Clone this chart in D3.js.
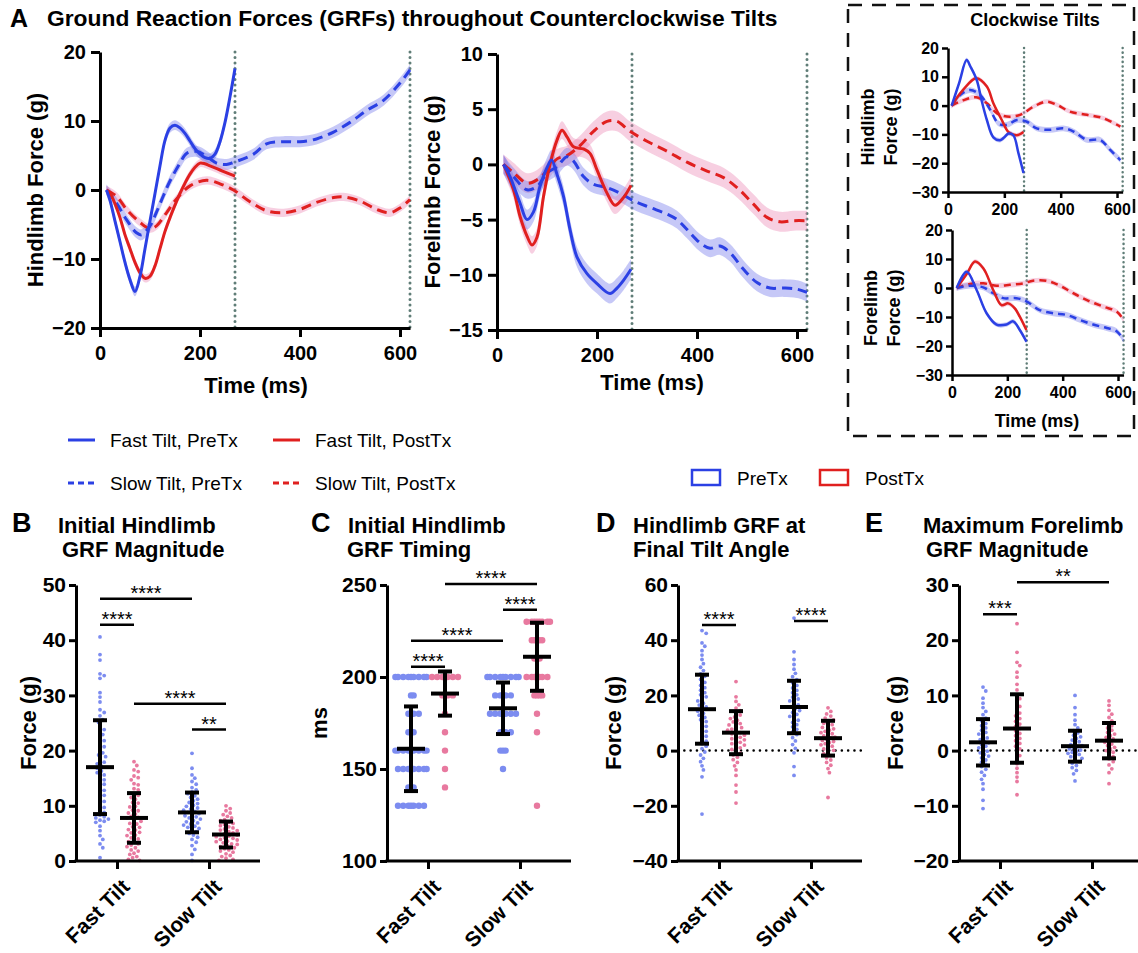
<!DOCTYPE html>
<html>
<head>
<meta charset="utf-8">
<script src="https://cdn.jsdelivr.net/npm/d3@7"></script>
<style>
  body { margin: 0; background: #fff; }
  svg text { font-family: "Liberation Sans", Arial, sans-serif; }
</style>
</head>
<body>
<svg id="fig" width="1138" height="953"></svg>
<script>
// ---- shared labels ----
const timeTicks = [0, 200, 400, 600];
const tiltEnds = [270, 620];
const seriesNames = ['Fast Tilt, PreTx', 'Fast Tilt, PostTx', 'Slow Tilt, PreTx', 'Slow Tilt, PostTx'];
const txGroups = ['PreTx', 'PostTx'];
const cats = ['Fast Tilt', 'Slow Tilt'];

// ---- A: counterclockwise hindlimb [time ms, force g] ----
const ccwHindFastPre = [[13,0],[20,-1.5],[30,-4.5],[40,-7.5],[50,-10.5],[60,-13],[70,-14.7],[80,-12.5],[90,-8.5],[100,-4.5],[110,-0.5],[120,3.5],[130,7.2],[140,9],[150,9.4],[160,9],[170,8.2],[180,7.1],[190,6],[200,5.2],[210,4.7],[220,4.6],[230,5.2],[240,7],[250,9.8],[260,13.5],[270,17.6]];
const ccwHindFastPost = [[13,0],[20,-0.5],[30,-2],[40,-4],[50,-6.5],[60,-8.5],[70,-10.5],[80,-12],[90,-12.8],[100,-12.5],[110,-11],[120,-8.5],[130,-6],[140,-4],[150,-2.2],[160,-0.5],[170,1],[180,2.3],[190,3.3],[200,3.9],[210,3.8],[220,3.5],[230,3.2],[240,2.9],[250,2.6],[260,2.3],[270,2]];
const ccwHindSlowPre = [[13,0],[33,-1.9],[53,-4.3],[73,-6.2],[83,-6.5],[100,-5.2],[113,-3.2],[127,-0.8],[140,1.3],[160,3.9],[173,5.3],[193,5.6],[213,4.9],[233,3.9],[253,3.7],[267,4],[307,5.2],[333,6.7],[367,7],[400,7],[433,7.4],[467,8.4],[500,9.8],[533,11.5],[567,13],[600,15.5],[620,17.4]];
const ccwHindSlowPost = [[13,0],[33,-0.9],[53,-2.8],[80,-4.7],[100,-5.6],[113,-5.2],[133,-3.3],[153,-1.3],[180,0.6],[213,1.4],[240,0.9],[267,0],[300,-1.7],[333,-3],[367,-3.3],[400,-2.8],[433,-1.8],[467,-1.1],[487,-1],[520,-1.6],[553,-2.8],[580,-3.3],[600,-2.6],[620,-1.4]];
const ccwHindSem = [0.7, 0.6, 0.8, 0.6];

// ---- A: counterclockwise forelimb ----
const ccwForeFastPre = [[13,0],[26,-1.1],[46,-3.5],[60,-5],[73,-4.3],[86,-2],[100,-0.3],[109,0.4],[120,-0.9],[133,-2.9],[146,-5.9],[160,-8.4],[180,-9.9],[200,-10.8],[226,-11.7],[240,-11.2],[253,-10.5],[268,-9.5]];
const ccwForeFastPost = [[13,0],[33,-2.3],[46,-4.7],[60,-6.5],[70,-7.3],[80,-6.6],[93,-2.9],[106,0],[120,2.2],[130,3.1],[140,2.5],[153,1.6],[173,1.4],[186,1],[200,-0.5],[220,-2.6],[236,-3.7],[253,-3],[268,-1.9]];
const ccwForeSlowPre = [[13,0],[33,-1.1],[60,-2.3],[80,-2],[100,-0.8],[120,-0.2],[140,0.7],[153,0.3],[173,-1.1],[193,-1.8],[220,-2.1],[246,-2.6],[273,-3.3],[306,-3.9],[340,-4.5],[360,-5],[380,-5.9],[406,-7.1],[426,-7.6],[446,-7.4],[466,-8],[493,-9.5],[520,-10.7],[546,-11.2],[573,-11.2],[600,-11.3],[620,-11.6]];
const ccwForeSlowPost = [[13,0],[33,-0.75],[60,-1.7],[80,-1.4],[100,-0.6],[120,0.5],[140,0.8],[166,1.7],[193,3],[220,3.9],[240,3.9],[266,3],[300,2.1],[340,1.2],[380,0.2],[420,-0.6],[453,-1.2],[480,-2.1],[513,-3.6],[540,-4.8],[566,-5.2],[593,-5.1],[620,-5.1]];
const ccwForeSem = [0.9, 0.8, 0.8, 0.9];

// ---- A inset: clockwise hindlimb ----
const cwHindFastPre = [[13,0],[40,8],[66,15.8],[80,13.5],[102,8.9],[120,1.5],[138,-5],[161,-11],[185,-12],[200,-11],[215,-9.7],[232,-10.3],[250,-16.5],[268,-23.4]];
const cwHindFastPost = [[13,0],[53,5.4],[100,9.5],[138,6.6],[161,0.8],[191,-5],[215,-9.2],[244,-10.3],[268,-9.2]];
const cwHindSlowPre = [[13,0],[43,3.7],[78,5.4],[114,3.7],[150,-1.5],[179,-6.2],[209,-6.7],[244,-5],[280,-5.6],[315,-7.9],[363,-8.4],[410,-7.9],[446,-9],[493,-11.9],[540,-11.9],[576,-15.4],[612,-18.9]];
const cwHindSlowPost = [[13,0],[53,1.8],[100,2.9],[138,0.8],[173,-2.6],[209,-3.8],[256,-3.2],[303,-0.4],[350,1.4],[386,0.3],[433,-2.1],[493,-3.2],[552,-4.4],[612,-7.3]];
const cwHindSem = [0.8, 0.8, 1.0, 0.8];

// ---- A inset: clockwise forelimb ----
const cwForeFastPre = [[17,0],[53,5.6],[89,-0.7],[125,-8.7],[161,-12.6],[197,-12.6],[221,-11.5],[245,-14.5],[269,-18.5]];
const cwForeFastPost = [[17,0],[53,4.8],[83,9.1],[113,6.8],[149,-0.7],[179,-5.9],[203,-5.3],[227,-7],[245,-9.9],[269,-14.5]];
const cwForeSlowPre = [[17,0],[65,0.8],[113,0.2],[149,-1.8],[185,-3.5],[233,-3.5],[269,-4.6],[317,-7.6],[366,-8.7],[414,-9.3],[462,-11],[510,-12.6],[559,-13.8],[595,-14.9],[620,-17.9]];
const cwForeSlowPost = [[17,0],[65,1.4],[113,1.6],[161,0.8],[209,1.1],[257,1.6],[293,2.5],[341,2.5],[390,0.8],[438,-1.8],[486,-4.1],[546,-6.4],[595,-8.1],[620,-11]];
const cwForeSem = [0.8, 0.8, 1.0, 0.9];

// ---- B: initial hindlimb GRF magnitude (g), groups: FastPre, FastPost, SlowPre, SlowPost ----
const bFastPre = [40.6,37.4,36.4,33.9,33.6,33.1,30.5,29.7,28.8,27.4,26.9,26.3,25.6,25.1,24.3,23.8,23.5,22.9,22.2,21.8,21.1,20.7,20.3,19.6,19.2,18.9,18.3,17.9,17.6,17.2,16.8,16.3,16.0,15.6,15.1,14.7,14.2,13.9,13.3,12.8,12.4,11.9,11.2,10.8,10.1,9.7,9.2,8.8,8.3,8.0,7.8,7.6,7.4,7.2,7.0,6.3,5.5,4.6,3.9,3.1,2.4,0.6];
const bFastPost = [18.0,17.3,16.5,16.2,15.4,15.1,14.7,14.0,13.8,13.1,12.9,12.2,11.9,11.5,11.2,10.6,10.5,9.9,9.8,9.2,9.1,8.7,8.5,8.1,7.9,7.8,7.3,7.2,6.8,6.7,6.2,6.1,5.7,5.6,5.2,5.1,4.7,4.6,4.2,4.0,3.6,3.5,3.1,2.9,2.6,2.4,2.0,1.8,1.4,1.2,0.8,0.6,0.3,0.1];
const bSlowPre = [19.5,16.8,15.6,15.0,14.4,13.9,13.3,12.9,12.5,12.2,11.8,11.5,11.2,10.9,10.6,10.4,10.1,9.9,9.6,9.4,9.2,9.0,8.8,8.6,8.4,8.2,8.0,7.8,7.6,7.3,7.1,6.9,6.7,6.5,6.3,6.1,5.9,5.6,5.3,5.0,4.7,4.3,3.9,3.4,2.8,2.1,1.2,0.1];
const bSlowPost = [10.0,9.5,9.1,8.7,8.4,8.1,7.8,7.5,7.3,7.0,6.8,6.6,6.4,6.2,6.0,5.8,5.6,5.5,5.3,5.1,5.0,4.8,4.7,4.5,4.4,4.2,4.1,3.9,3.8,3.6,3.5,3.3,3.1,3.0,2.8,2.6,2.4,2.2,2.0,1.8,1.6,1.3,1.0,0.8,0.5,0.3,0.1];
const bMean = [17, 7.8, 8.8, 4.8];
const bSd = [8.5, 4.5, 3.6, 2.35];
const bSig = [[0, 2, 47.5, '****'], [0, 1, 42.8, '****'], [1, 3, 28.5, '****'], [2, 3, 23.8, '**']];

// ---- C: initial hindlimb GRF timing (ms), [value, count] ----
const cFastPre = [[200,9],[190,2],[180,4],[170,3],[160,9],[150,8],[140,3],[130,7]];
const cFastPost = [[200,7],[190,4],[180,1],[170,1],[160,1],[150,1],[140,1]];
const cSlowPre = [[200,9],[190,5],[180,7],[170,4],[160,3],[150,1]];
const cSlowPost = [[230,8],[220,5],[210,3],[200,7],[190,4],[180,1],[170,1],[130,1]];
const cMean = [161, 191, 183, 211];
const cSd = [23, 12, 14, 18.5];
const cSig = [[0, 1, 205.6, '****'], [0, 2, 219.7, '****'], [2, 3, 236.5, '****'], [1, 3, 250.5, '****']];

// ---- D: hindlimb GRF at final tilt angle (g) ----
const dFastPre = [43.5,42.5,39.0,37.8,36.2,34.6,33.0,31.5,30.2,29.0,27.8,26.9,25.8,24.7,23.6,22.8,21.9,21.0,20.2,19.5,18.7,18.0,17.2,16.5,15.8,15.0,14.3,13.5,12.8,12.0,11.2,10.5,9.6,8.8,7.9,7.0,6.1,5.2,4.3,3.4,2.5,1.6,0.7,-0.5,-1.6,-2.8,-4.0,-5.5,-7.0,-9.5,-23.0];
const dFastPost = [25.0,19.5,17.8,16.6,15.4,14.5,13.7,12.9,12.2,11.6,11.0,10.4,9.8,9.3,8.8,8.3,7.8,7.4,6.9,6.5,6.1,5.6,5.2,4.8,4.3,3.9,3.4,3.0,2.5,2.0,1.5,1.0,0.4,-0.2,-0.9,-1.6,-2.4,-3.3,-4.3,-5.5,-7.0,-9.0,-12.5,-15.0,-19.0];
const dSlowPre = [48.0,35.8,33.0,31.2,29.5,28.0,26.8,25.7,24.6,23.6,22.7,21.8,21.0,20.2,19.4,18.7,18.0,17.3,16.6,15.9,15.2,14.5,13.8,13.1,12.4,11.7,11.0,10.2,9.4,8.6,7.7,6.8,5.8,4.7,3.5,2.2,0.8,-0.8,-5.8,-9.0];
const dSlowPost = [15.5,14.2,13.3,12.5,11.8,11.1,10.5,9.9,9.4,8.9,8.4,7.9,7.4,7.0,6.5,6.1,5.7,5.3,4.9,4.5,4.1,3.7,3.3,2.9,2.5,2.1,1.6,1.1,0.6,0.1,-0.5,-1.1,-1.8,-2.6,-3.4,-4.3,-5.3,-6.5,-8.0,-17.0];
const dMean = [15, 6.5, 15.8, 4.5];
const dSd = [12.5, 7.8, 9.5, 6.3];
const dSig = [[0, 1, 45.5, '****'], [2, 3, 47, '****']];

// ---- E: maximum forelimb GRF magnitude (g) ----
const eFastPre = [11.5,10.8,9.5,8.6,7.8,7.1,6.5,5.9,5.4,4.9,4.5,4.1,3.7,3.3,3.0,2.6,2.3,2.0,1.7,1.4,1.1,0.8,0.5,0.2,-0.1,-0.4,-0.7,-1.0,-1.3,-1.7,-2.1,-2.5,-2.9,-3.4,-3.9,-4.5,-5.2,-6.0,-7.0,-9.0,-10.5];
const eFastPost = [23.0,17.8,16.0,15.4,14.2,13.3,12.0,11.0,10.1,9.4,8.7,8.0,7.4,6.8,6.3,5.8,5.3,4.8,4.4,4.0,3.6,3.1,2.7,2.2,1.8,1.3,0.8,0.3,-0.3,-0.9,-1.6,-2.4,-3.2,-4.0,-4.8,-5.6,-8.0];
const eSlowPre = [10.0,7.8,6.5,5.5,4.7,4.1,3.6,3.2,2.8,2.5,2.2,1.9,1.6,1.3,1.1,0.9,0.7,0.5,0.3,0.1,-0.1,-0.3,-0.5,-0.7,-0.9,-1.1,-1.4,-1.7,-2.0,-2.3,-2.7,-3.1,-3.6,-4.2,-5.5];
const eSlowPost = [9.0,8.2,7.3,6.6,6.0,5.4,4.9,4.5,4.1,3.7,3.3,3.0,2.7,2.4,2.1,1.8,1.5,1.2,0.9,0.6,0.3,0.0,-0.3,-0.7,-1.1,-1.5,-2.0,-2.6,-3.3,-4.0,-6.0];
const eMean = [1.5, 4, 0.8, 1.8];
const eSd = [4.2, 6.2, 2.8, 3.2];
const eSig = [[0, 1, 24.7, '***'], [1, 3, 30.5, '**']];

// ---- colours ----
const BLUE = '#2b40e4', RED = '#e0201f';
const lineColor = [BLUE, RED, BLUE, RED];
const bandColor = ['rgba(105,110,235,0.38)', 'rgba(235,130,175,0.38)', 'rgba(105,110,235,0.38)', 'rgba(235,130,175,0.38)'];
const dotColor = ['#7c8cf0', '#e8799f'];
const FONT = '"Liberation Sans", Arial, sans-serif';

const svg = d3.select('#fig');

function styleAxis(sel, size, width) {
  sel.attr('font-size', size).attr('font-family', FONT).attr('font-weight', 'bold');
  sel.select('.domain').attr('stroke-width', width).attr('stroke', '#000');
  sel.selectAll('.tick line').attr('stroke-width', width).attr('stroke', '#000');
  sel.selectAll('.tick text').attr('fill', '#000');
}

function vLabel(lines, x, y, size, gap) {
  const t = svg.append('text')
    .attr('transform', `translate(${x},${y}) rotate(-90)`)
    .attr('text-anchor', 'middle')
    .attr('font-size', size).attr('font-weight', 'bold');
  lines.forEach((s, i) => t.append('tspan').attr('x', 0).attr('y', i * gap).text(s));
}

// ---- time series panels ----
function timePanel(cfg) {
  const x = d3.scaleLinear().domain([0, 620]).range(cfg.xr);
  const y = d3.scaleLinear().domain(cfg.yd).range(cfg.yr);
  const g = svg.append('g');

  g.selectAll('line.tilt').data(tiltEnds).join('line')
    .attr('x1', d => x(d)).attr('x2', d => x(d))
    .attr('y1', y(cfg.yd[1])).attr('y2', y(cfg.yd[0]))
    .attr('stroke', '#5f7d77').attr('stroke-width', cfg.lw)
    .attr('stroke-linecap', 'round').attr('stroke-dasharray', `0.1,${cfg.lw * 1.8}`);

  const order = [3, 2, 1, 0];
  const area = sem => d3.area().curve(d3.curveCatmullRom)
    .x(d => x(d[0])).y0(d => y(d[1] - sem)).y1(d => y(d[1] + sem));
  const line = d3.line().curve(d3.curveCatmullRom).x(d => x(d[0])).y(d => y(d[1]));

  order.forEach(i => {
    g.append('path').attr('d', area(cfg.sem[i])(cfg.data[i])).attr('fill', bandColor[i]);
  });
  order.forEach(i => {
    g.append('path').attr('d', line(cfg.data[i]))
      .attr('fill', 'none').attr('stroke', lineColor[i]).attr('stroke-width', cfg.lw)
      .attr('stroke-dasharray', i >= 2 ? cfg.dash : null);
  });

  const gx = g.append('g').attr('transform', `translate(0,${cfg.yr[0]})`)
    .call(d3.axisBottom(x).tickValues(timeTicks).tickSize(cfg.tick).tickPadding(cfg.xpad).tickSizeOuter(0));
  styleAxis(gx, cfg.font, cfg.aw);
  const gy = g.append('g').attr('transform', `translate(${cfg.xr[0]},0)`)
    .call(d3.axisLeft(y).tickValues(cfg.yTicks).tickSize(cfg.tick).tickPadding(cfg.ypad).tickSizeOuter(0));
  styleAxis(gy, cfg.font, cfg.aw);
}

timePanel({
  data: [ccwHindFastPre, ccwHindFastPost, ccwHindSlowPre, ccwHindSlowPost], sem: ccwHindSem,
  xr: [100, 410], yd: [-20, 20], yr: [328, 52], yTicks: [-20, -10, 0, 10, 20],
  tick: 9, xpad: 9, ypad: 5, font: 20, aw: 3, lw: 3, dash: '10,6'
});
timePanel({
  data: [ccwForeFastPre, ccwForeFastPost, ccwForeSlowPre, ccwForeSlowPost], sem: ccwForeSem,
  xr: [497, 807], yd: [-15, 10], yr: [330, 54], yTicks: [-15, -10, -5, 0, 5, 10],
  tick: 9, xpad: 9, ypad: 5, font: 20, aw: 3, lw: 3, dash: '10,6'
});
timePanel({
  data: [cwHindFastPre, cwHindFastPost, cwHindSlowPre, cwHindSlowPost], sem: cwHindSem,
  xr: [948, 948 + 620 * 0.2817], yd: [-30, 20], yr: [192, 48], yTicks: [-30, -20, -10, 0, 10, 20],
  tick: 6, xpad: 6, ypad: 3, font: 16, aw: 2.5, lw: 2.5, dash: '7,5'
});
timePanel({
  data: [cwForeFastPre, cwForeFastPost, cwForeSlowPre, cwForeSlowPost], sem: cwForeSem,
  xr: [952, 952 + 620 * 0.2767], yd: [-30, 20], yr: [375, 230], yTicks: [-30, -20, -10, 0, 10, 20],
  tick: 6, xpad: 6, ypad: 3, font: 16, aw: 2.5, lw: 2.5, dash: '7,5'
});

// panel A text
svg.append('text').attr('x', 10).attr('y', 27).attr('font-size', 25).attr('font-weight', 'bold').text('A');
svg.append('text').attr('x', 47).attr('y', 26).attr('font-size', 22.8).attr('font-weight', 'bold')
  .text('Ground Reaction Forces (GRFs) throughout Counterclockwise Tilts');
vLabel(['Hindlimb Force (g)'], 43, 190, 22, 0);
vLabel(['Forelimb Force (g)'], 440, 192, 22, 0);
svg.append('text').attr('x', 256).attr('y', 393).attr('text-anchor', 'middle')
  .attr('font-size', 22).attr('font-weight', 'bold').text('Time (ms)');
svg.append('text').attr('x', 652).attr('y', 390).attr('text-anchor', 'middle')
  .attr('font-size', 22).attr('font-weight', 'bold').text('Time (ms)');

// clockwise inset
svg.append('rect').attr('x', 848).attr('y', 5).attr('width', 286).attr('height', 431)
  .attr('fill', 'none').attr('stroke', '#111').attr('stroke-width', 2.5).attr('stroke-dasharray', '14,10');
svg.append('text').attr('x', 1035).attr('y', 26).attr('text-anchor', 'middle')
  .attr('font-size', 18).attr('font-weight', 'bold').text('Clockwise Tilts');
vLabel(['Hindlimb', 'Force (g)'], 874, 127, 18, 23);
vLabel(['Forelimb', 'Force (g)'], 877, 308, 18, 23);
svg.append('text').attr('x', 1037).attr('y', 427).attr('text-anchor', 'middle')
  .attr('font-size', 18).attr('font-weight', 'bold').text('Time (ms)');

// line legend
const legPos = [[68, 440], [273, 440], [68, 483], [273, 483]];
seriesNames.forEach((name, i) => {
  const [lx, ly] = legPos[i];
  svg.append('line').attr('x1', lx).attr('x2', lx + 27).attr('y1', ly).attr('y2', ly)
    .attr('stroke', lineColor[i]).attr('stroke-width', 3)
    .attr('stroke-dasharray', i >= 2 ? '6,4' : null);
  svg.append('text').attr('x', lx + 42).attr('y', ly + 7).attr('font-size', 19).text(name);
});

// PreTx / PostTx legend
txGroups.forEach((name, i) => {
  const lx = 692 + i * 128;
  svg.append('rect').attr('x', lx).attr('y', 470).attr('width', 28).attr('height', 15)
    .attr('fill', 'none').attr('stroke', i ? RED : BLUE).attr('stroke-width', 2.5);
  svg.append('text').attr('x', lx + 45).attr('y', 485).attr('font-size', 19).text(name);
});

// ---- scatter panels ----
function swarm(vals, cx, y, minDist, step) {
  const placed = [];
  vals.forEach(v => {
    const py = y(v);
    for (let k = 0; k < 400; k++) {
      const off = (k % 2 ? 1 : -1) * Math.ceil(k / 2) * step;
      const px = cx + off;
      if (placed.every(p => (p.x - px) ** 2 + (p.y - py) ** 2 >= minDist * minDist)) {
        placed.push({ x: px, y: py });
        break;
      }
    }
  });
  return placed;
}

function dotPanel(cfg) {
  const y = d3.scaleLinear().domain(cfg.yd).range([861, 585]);
  const x = d3.scalePoint().domain(cats).range([cfg.ax + 41, cfg.ax + 133]);
  const gxPos = i => x(cats[Math.floor(i / 2)]) + (i % 2 ? 17 : -17);
  const g = svg.append('g');

  if (cfg.zero) {
    g.append('line').attr('x1', cfg.ax).attr('x2', cfg.ax + 184).attr('y1', y(0)).attr('y2', y(0))
      .attr('stroke', '#000').attr('stroke-width', 2.5).attr('stroke-linecap', 'round')
      .attr('stroke-dasharray', '0.1,6.2');
  }

  cfg.groups.forEach((vals, i) => {
    const pts = swarm(vals, gxPos(i), y, cfg.minDist, cfg.step);
    g.append('g').selectAll('circle').data(pts).join('circle')
      .attr('cx', d => d.x).attr('cy', d => d.y).attr('r', cfg.r)
      .attr('fill', dotColor[i % 2]);
  });

  // mean +/- SD
  cfg.mean.forEach((m, i) => {
    const cx = gxPos(i), lo = y(m - cfg.sd[i]), hi = y(m + cfg.sd[i]);
    const eb = g.append('g').attr('stroke', '#000').attr('stroke-width', 4);
    eb.append('line').attr('x1', cx).attr('x2', cx).attr('y1', lo).attr('y2', hi);
    eb.append('line').attr('x1', cx - 7).attr('x2', cx + 7).attr('y1', lo).attr('y2', lo);
    eb.append('line').attr('x1', cx - 7).attr('x2', cx + 7).attr('y1', hi).attr('y2', hi);
    eb.append('line').attr('x1', cx - 14).attr('x2', cx + 14).attr('y1', y(m)).attr('y2', y(m));
  });

  // significance bars
  cfg.sig.forEach(([a, b, v, s]) => {
    const x1 = gxPos(a), x2 = gxPos(b), yy = y(v);
    g.append('line').attr('x1', x1).attr('x2', x2).attr('y1', yy).attr('y2', yy)
      .attr('stroke', '#000').attr('stroke-width', 2.5);
    g.append('text').attr('x', (x1 + x2) / 2).attr('y', yy + 1).attr('text-anchor', 'middle')
      .attr('font-size', 20).text(s);
  });

  // axes
  const gy = g.append('g').attr('transform', `translate(${cfg.ax},0)`)
    .call(d3.axisLeft(y).tickValues(cfg.yTicks).tickSize(7).tickPadding(3).tickSizeOuter(0));
  styleAxis(gy, 21, 3);
  g.append('line').attr('x1', cfg.ax - 1.5).attr('x2', cfg.ax + 184).attr('y1', 861).attr('y2', 861)
    .attr('stroke', '#000').attr('stroke-width', 3);
  const gx = g.append('g').attr('transform', 'translate(0,861)')
    .call(d3.axisBottom(x).tickSize(8).tickFormat(''));
  gx.select('.domain').remove();
  gx.selectAll('.tick line').attr('stroke', '#000').attr('stroke-width', 3);
  cats.forEach(c => {
    g.append('text').attr('transform', `translate(${x(c) + 14},${861 + 27}) rotate(-45)`)
      .attr('text-anchor', 'end').attr('font-size', 21).attr('font-weight', 'bold').text(c);
  });

  // titles
  svg.append('text').attr('x', cfg.letterX).attr('y', 532).attr('font-size', 27).attr('font-weight', 'bold').text(cfg.letter);
  cfg.title.forEach((s, i) => {
    svg.append('text').attr('x', cfg.titleX[i]).attr('y', 533 + i * 24)
      .attr('font-size', 22).attr('font-weight', 'bold').text(s);
  });
  vLabel([cfg.ylabel], cfg.ylabelX, 723, 22, 0);
}

const expand = arr => arr.flatMap(([v, n]) => Array(n).fill(v));

dotPanel({
  ax: 76, yd: [0, 50], yTicks: [0, 10, 20, 30, 40, 50],
  groups: [bFastPre, bFastPost, bSlowPre, bSlowPost], mean: bMean, sd: bSd, sig: bSig,
  r: 1.9, minDist: 4.3, step: 1.4, zero: false,
  letter: 'B', letterX: 12, title: ['Initial Hindlimb', 'GRF Magnitude'], titleX: [58, 62],
  ylabel: 'Force (g)', ylabelX: 36
});
dotPanel({
  ax: 387, yd: [100, 250], yTicks: [100, 150, 200, 250],
  groups: [expand(cFastPre), expand(cFastPost), expand(cSlowPre), expand(cSlowPost)],
  mean: cMean, sd: cSd, sig: cSig,
  r: 3.2, minDist: 2.6, step: 2.6, zero: false,
  letter: 'C', letterX: 311, title: ['Initial Hindlimb', 'GRF Timing'], titleX: [348, 347],
  ylabel: 'ms', ylabelX: 327
});
dotPanel({
  ax: 678, yd: [-40, 60], yTicks: [-40, -20, 0, 20, 40, 60],
  groups: [dFastPre, dFastPost, dSlowPre, dSlowPost], mean: dMean, sd: dSd, sig: dSig,
  r: 1.9, minDist: 4.3, step: 1.4, zero: true,
  letter: 'D', letterX: 596, title: ['Hindlimb GRF at', 'Final Tilt Angle'], titleX: [633, 633],
  ylabel: 'Force (g)', ylabelX: 621
});
dotPanel({
  ax: 959, yd: [-20, 30], yTicks: [-20, -10, 0, 10, 20, 30],
  groups: [eFastPre, eFastPost, eSlowPre, eSlowPost], mean: eMean, sd: eSd, sig: eSig,
  r: 1.9, minDist: 4.3, step: 1.4, zero: true,
  letter: 'E', letterX: 865, title: ['Maximum Forelimb', 'GRF Magnitude'], titleX: [923, 926],
  ylabel: 'Force (g)', ylabelX: 903
});
</script>
</body>
</html>
